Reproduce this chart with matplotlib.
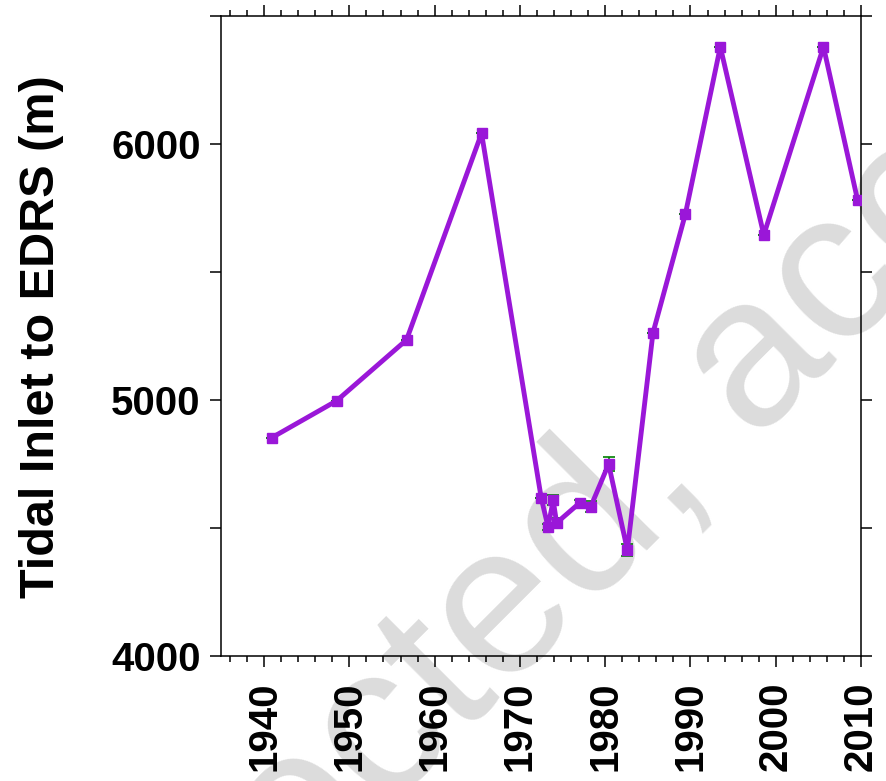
import numpy as np
import matplotlib.pyplot as plt
from matplotlib.ticker import MultipleLocator, FuncFormatter

# distance from tidal inlet to EDRS over time
years = [1940.9, 1948.5, 1956.7, 1965.5, 1972.5, 1973.3, 1973.9, 1974.3,
         1977.0, 1978.3, 1980.4, 1982.6, 1985.6, 1989.4, 1993.5, 1998.6,
         2005.6, 2009.6]
dist = [4854, 4998, 5236, 6043, 4618, 4505, 4610, 4521,
        4599, 4584, 4751, 4415, 5263, 5727, 6381, 5646,
        6381, 5782]
err = [0, 0, 0, 0, 0, 12, 20, 20,
       12, 22, 26, 23, 0, 0, 0, 0,
       0, 0]

purple = '#9A17D8'

plt.rcParams['font.family'] = ['Liberation Sans', 'DejaVu Sans']

fig = plt.figure(figsize=(8.87, 7.81), dpi=100)
ax = fig.add_axes([0.2497, 0.1597, 0.7210, 0.8194])
ax.patch.set_alpha(0)

# watermark behind everything
x0, y0 = 300 / 887, 1 - 898 / 781
wm = dict(fontsize=154, color='#dcdcdc', rotation=45, rotation_mode='anchor',
          va='baseline', zorder=-5)
fig.text(x0, y0, 'Uncorr', ha='right', **wm)
fig.text(x0, y0, 'ected, accepted manuscript', ha='left', **wm)

ax.errorbar(years, dist, yerr=err, fmt='none', ecolor='green',
            elinewidth=1.2, capsize=4, capthick=1.2, zorder=2)
ax.plot(years, dist, color=purple, lw=3.5, marker='s', ms=7,
        solid_joinstyle='round', zorder=3)

ax.set_xlim(1935, 2010)
ax.set_ylim(4000, 6500)

ax.xaxis.set_major_locator(MultipleLocator(10))
ax.xaxis.set_minor_locator(MultipleLocator(2))
ax.yaxis.set_major_locator(MultipleLocator(500))
ax.yaxis.set_major_formatter(FuncFormatter(lambda v, p: f'{int(v)}' if v % 1000 == 0 else ''))

ax.tick_params(which='both', direction='out', top=True, right=True, width=1.1)
ax.tick_params(which='major', length=8, labelsize=29, pad=7)
ax.tick_params(which='minor', length=4)
ax.tick_params(axis='x', which='major', pad=10)

for lab in ax.get_xticklabels() + ax.get_yticklabels():
    lab.set_fontweight('bold')
for lab in ax.get_xticklabels():
    lab.set_rotation(90)

for s in ax.spines.values():
    s.set_linewidth(1.1)

ax.set_ylabel('Tidal Inlet to EDRS (m)', fontsize=35, fontweight='bold')
ax.yaxis.set_label_coords(-0.246, 0.5)

fig.savefig('out.png', dpi=100)
